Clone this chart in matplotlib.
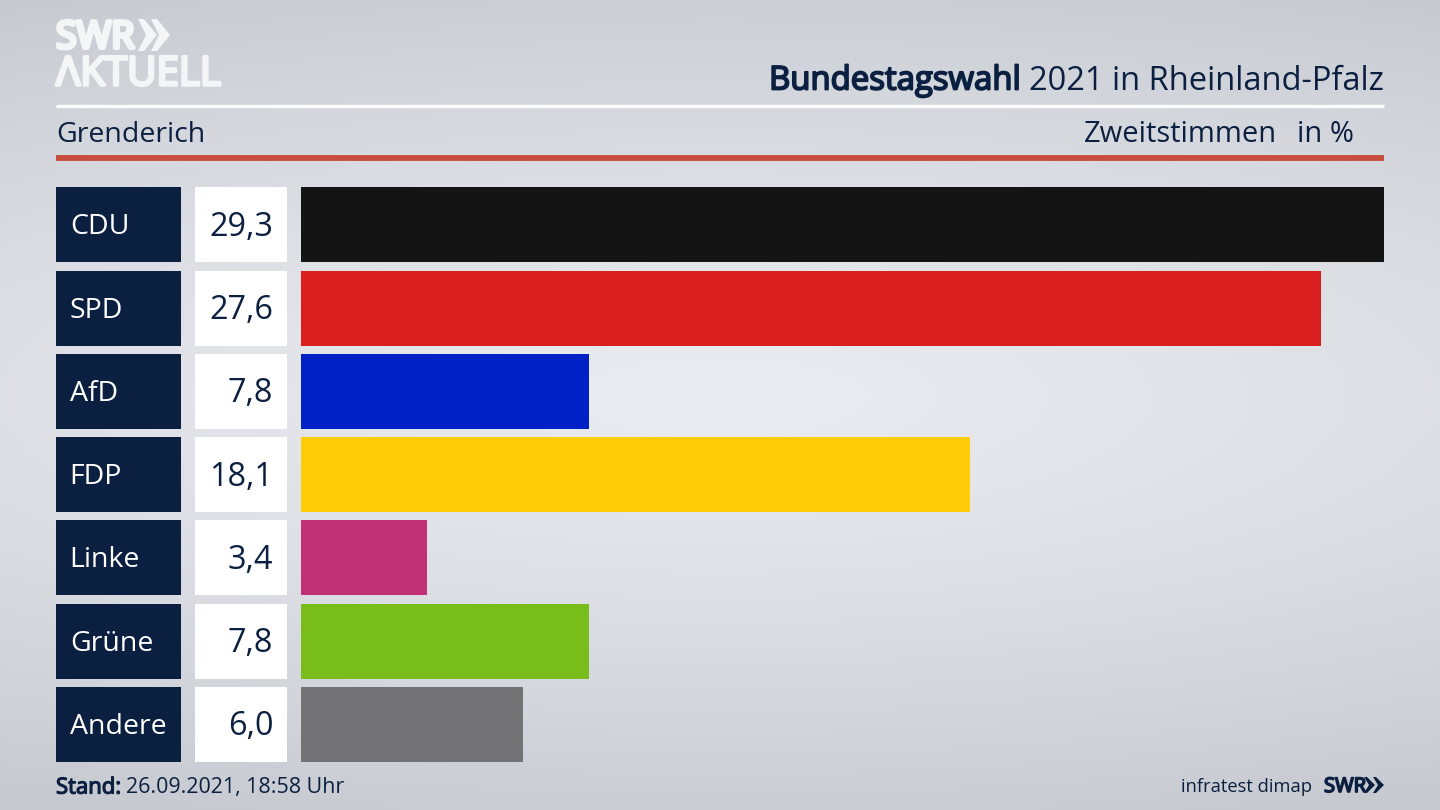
import numpy as np
import matplotlib.pyplot as plt
from matplotlib.patches import Polygon
import matplotlib.patheffects as pe

plt.rcParams['font.family'] = ['Open Sans', 'DejaVu Sans']

parties = ['CDU', 'SPD', 'AfD', 'FDP', 'Linke', 'Grüne', 'Andere']
values = [29.3, 27.6, 7.8, 18.1, 3.4, 7.8, 6.0]
value_labels = ['29,3', '27,6', '7,8', '18,1', '3,4', '7,8', '6,0']
colors = ['#141414', '#da201e', '#0021c6', '#ffcd08', '#bf3074', '#79bd1a', '#737375']

NAVY = '#0b1f40'
W, H = 1440, 810


def px_axes(fig, left, top, right, bottom):
    # axes placed by pixel box, y measured from the top
    ax = fig.add_axes([left / W, 1 - bottom / H, (right - left) / W, (bottom - top) / H])
    ax.axis('off')
    return ax


def fat(width, color):
    # thickens a regular weight where the font has no bold cut
    return [pe.withStroke(linewidth=width, foreground=color)]


fig = plt.figure(figsize=(14.4, 8.1), dpi=100)

# full figure layer in pixel coordinates
bg = px_axes(fig, 0, 0, W, H)
bg.set_xlim(0, W)
bg.set_ylim(H, 0)
xx, yy = np.meshgrid(np.linspace(-1, 1, 288), np.linspace(-1, 1, 162))
dist = np.clip(np.sqrt((xx * 0.5) ** 2 + (yy + 0.02) ** 2), 0, 1.12) / 1.12
light = np.array([235, 236, 241]) / 255
dark = np.array([198, 202, 208]) / 255
grad = light + (dark - light) * dist[..., None] ** 1.2
bg.imshow(grad, extent=[0, W, H, 0], aspect='auto', interpolation='bicubic', zorder=0)

# header
bg.plot([56, 1384], [105.5, 105.5], color='white', lw=2.4, solid_capstyle='butt')
bg.plot([56, 1384], [157.5, 157.5], color='#c84d3c', lw=4.2, solid_capstyle='butt')
bg.text(769, 81, 'Bundestagswahl', fontsize=23.7, color=NAVY, va='center', ha='left',
        path_effects=fat(1.3, NAVY))
bg.text(1384, 81, '2021 in Rheinland-Pfalz', fontsize=23.5, color=NAVY, va='center', ha='right')
bg.text(56, 135, 'Grenderich', fontsize=20.5, color=NAVY, va='center')
bg.text(1277, 135, 'Zweitstimmen', fontsize=21, color=NAVY, va='center', ha='right')
bg.text(1354, 135, 'in %', fontsize=21, color=NAVY, va='center', ha='right')

# logo
bg.text(56, 38, 'SWR', fontsize=27, color='#f4f5f7', va='center', ha='left',
        path_effects=fat(3, '#f4f5f7'))
bg.text(56, 75, 'ΛKTUELL', fontsize=29, color='#f4f5f7', va='center', ha='left',
        path_effects=fat(2.2, '#f4f5f7'))
for x0 in (138, 151):
    bg.add_patch(Polygon([(x0, 19), (x0 + 6, 19), (x0 + 19, 35), (x0 + 6, 51), (x0, 51), (x0 + 8, 35)],
                         closed=True, color='#f4f5f7', lw=0))

# footer
bg.text(56, 788, 'Stand:', fontsize=15.9, color=NAVY, va='center', path_effects=fat(0.9, NAVY))
bg.text(126, 788, '26.09.2021, 18:58 Uhr', fontsize=15.4, color=NAVY, va='center')
bg.text(1312, 787, 'infratest dimap', fontsize=13.2, color=NAVY, va='center', ha='right')
bg.text(1324, 787, 'SWR', fontsize=14.5, color=NAVY, va='center', ha='left', path_effects=fat(1.2, NAVY))
for x0 in (1364, 1373):
    bg.add_patch(Polygon([(x0, 777), (x0 + 3, 777), (x0 + 11, 785), (x0 + 3, 793), (x0, 793), (x0 + 5, 785)],
                         closed=True, color=NAVY, lw=0))

ypos = np.arange(len(parties))
top, bottom = 183.2, 766

# party name boxes
ax_names = px_axes(fig, 56, top, 181, bottom)
ax_names.barh(ypos, [1] * len(parties), height=0.9, color=NAVY)
ax_names.set_xlim(0, 1)
ax_names.set_ylim(len(parties) - 0.5, -0.5)
for y, name in zip(ypos, parties):
    ax_names.text(0.11, y + 0.03, name, color='white', fontsize=20.5, va='center', ha='left')

# value boxes
ax_vals = px_axes(fig, 195, top, 287, bottom)
ax_vals.barh(ypos, [1] * len(parties), height=0.9, color='white')
ax_vals.set_xlim(0, 1)
ax_vals.set_ylim(len(parties) - 0.5, -0.5)
for y, label in zip(ypos, value_labels):
    ax_vals.text(0.85, y + 0.03, label, color=NAVY, fontsize=23.3, va='center', ha='right')

# bars
ax = px_axes(fig, 301, top, 1384, bottom)
ax.barh(ypos, values, height=0.9, color=colors)
ax.set_xlim(0, max(values))
ax.set_ylim(len(parties) - 0.5, -0.5)

fig.savefig('out.png', dpi=100)
